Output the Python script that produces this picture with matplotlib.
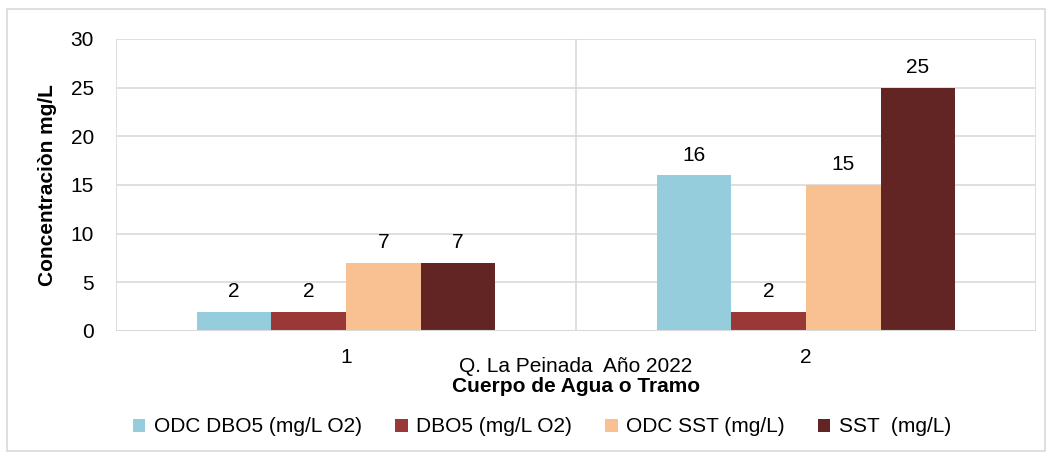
import matplotlib.pyplot as plt
import numpy as np
from matplotlib.patches import Rectangle

plt.rcParams['font.family'] = ['Liberation Sans', 'DejaVu Sans']

categorias = ['1', '2']
series = ['ODC DBO5 (mg/L O2)', 'DBO5 (mg/L O2)', 'ODC SST (mg/L)', 'SST  (mg/L)']
odc_dbo5 = [2, 16]
dbo5 = [2, 2]
odc_sst = [7, 15]
sst = [7, 25]
colores = ['#95CDDD', '#993836', '#F9C191', '#632523']

valores = [odc_dbo5, dbo5, odc_sst, sst]
fs = 15

fig = plt.figure(figsize=(10.53, 4.57), dpi=100)
ax = fig.add_axes([116 / 1053, 1 - 331 / 457, 920 / 1053, 292 / 457])

# marco exterior gris
fig.patches.append(Rectangle((7 / 1053, 1 - 451 / 457), 1038 / 1053, 442 / 457,
                             transform=fig.transFigure, fill=False,
                             edgecolor='#D9D9D9', linewidth=1.2))

x = np.arange(len(categorias))
w = 0.162
for i, (vals, nombre, c) in enumerate(zip(valores, series, colores)):
    pos = x + (i - 1.5) * w
    barras = ax.bar(pos, vals, w, color=c, label=nombre, zorder=3)
    for b, v in zip(barras, vals):
        ax.text(b.get_x() + b.get_width() / 2, v + 1.1, str(v),
                ha='center', va='bottom', fontsize=fs)

ax.set_xlim(-0.5, 1.5)
ax.set_ylim(0, 30)
ax.set_yticks(range(0, 31, 5))
ax.set_xticks(x)
ax.set_xticklabels(categorias, fontsize=fs)
ax.tick_params(axis='y', labelsize=fs, length=0, pad=16)
ax.tick_params(axis='x', length=0, pad=12)
ax.yaxis.grid(True, color='#D9D9D9', linewidth=1.2, zorder=0)
for xv in [-0.5, 0.5, 1.5]:
    ax.axvline(xv, color='#D9D9D9', linewidth=1.2, zorder=1)
for s in ax.spines.values():
    s.set_visible(False)
ax.axhline(0, color='#D9D9D9', linewidth=1.5, zorder=4)

ax.set_ylabel('Concentraciòn mg/L', fontsize=fs, fontweight='bold', labelpad=10)

fig.text(576 / 1053, 1 - 366 / 457, 'Q. La Peinada  Año 2022', ha='center', va='center', fontsize=fs)
fig.text(576 / 1053, 1 - 386 / 457, 'Cuerpo de Agua o Tramo', ha='center', va='center',
         fontsize=fs, fontweight='bold')

fig.legend(loc='center', bbox_to_anchor=(542 / 1053, 1 - 427 / 457), ncol=4, frameon=False,
           fontsize=fs, handlelength=0.6, handleheight=0.6, columnspacing=1.6, handletextpad=0.4)

fig.savefig('out.png', dpi=100)
